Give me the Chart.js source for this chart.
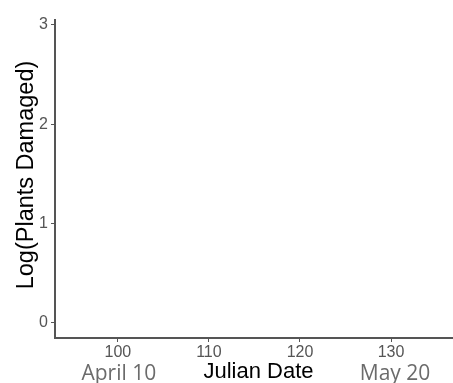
<!DOCTYPE html>
<html>
<head>
<meta charset="utf-8">
<script src="https://cdn.jsdelivr.net/npm/chart.js@4/dist/chart.umd.min.js"></script>
<style>
  html, body { margin: 0; padding: 0; background: #ffffff; }
  #wrap { width: 453px; height: 383px; position: relative; }
</style>
</head>
<body>
<div id="wrap"><canvas id="c" width="453" height="383"></canvas></div>
<script>
// Julian day ticks and the calendar dates shown under two of them
const julianTicks = [100, 110, 120, 130];
const logTicks = [0, 1, 2, 3];
const dateDays = [100, 130];
const dateNames = ['April 10', 'May 20'];
// Observed damage points (none recorded in this window)
const damagePoints = [];

const xTitle = 'Julian Date';
const yTitle = 'Log(Plants Damaged)';

const SANS = '"Liberation Sans", Arial, sans-serif';
const DATE_FONT = '"Open Sans", "Liberation Sans", sans-serif';
const TICK_COLOR = '#555555';

const extraLabels = {
  id: 'extraLabels',
  afterDraw(chart) {
    const ctx = chart.ctx;
    const xs = chart.scales.x;
    ctx.save();
    ctx.textAlign = 'center';
    ctx.textBaseline = 'alphabetic';
    ctx.font = '21px ' + DATE_FONT;
    ctx.fillStyle = '#6b6b6b';
    ctx.fillText(dateNames[0], xs.getPixelForValue(dateDays[0]) + 1, 380);
    ctx.fillText(dateNames[1], xs.getPixelForValue(dateDays[1]) + 4, 380);
    ctx.fillStyle = '#000000';
    ctx.font = '22px ' + SANS;
    ctx.fillText(xTitle, 258.5, 378);
    // vertical axis title
    ctx.font = '23.5px ' + SANS;
    ctx.translate(33, 175);
    ctx.rotate(-Math.PI / 2);
    ctx.fillText(yTitle, 0, 0);
    ctx.restore();
  }
};

new Chart(document.getElementById('c'), {
  type: 'scatter',
  data: {
    datasets: [{
      label: 'Plants damaged',
      data: damagePoints,
      backgroundColor: '#000000',
      pointRadius: 2
    }]
  },
  options: {
    responsive: false,
    animation: false,
    layout: { padding: { top: 20, right: 0, left: 0, bottom: 0 } },
    plugins: { legend: { display: false }, tooltip: { enabled: false } },
    scales: {
      x: {
        type: 'linear',
        min: 93.1,
        max: 136.8,
        afterBuildTicks(s) { s.ticks = julianTicks.map(v => ({ value: v })); },
        afterFit(s) { s.height = 45; },
        grid: { drawOnChartArea: false, drawTicks: true, tickLength: 4, color: TICK_COLOR, tickWidth: 1 },
        border: { display: true, color: '#555555', width: 2 },
        ticks: { color: TICK_COLOR, font: { family: SANS, size: 16 }, padding: 1, maxRotation: 0 }
      },
      y: {
        type: 'linear',
        min: -0.151,
        max: 3.05,
        afterBuildTicks(s) { s.ticks = logTicks.map(v => ({ value: v })); },
        afterFit(s) { s.width = 55; },
        grid: { drawOnChartArea: false, drawTicks: true, tickLength: 4, color: TICK_COLOR, tickWidth: 1 },
        border: { display: true, color: '#555555', width: 2 },
        ticks: { color: TICK_COLOR, font: { family: SANS, size: 16 }, padding: 3 }
      }
    }
  },
  plugins: [extraLabels]
});
</script>
</body>
</html>
